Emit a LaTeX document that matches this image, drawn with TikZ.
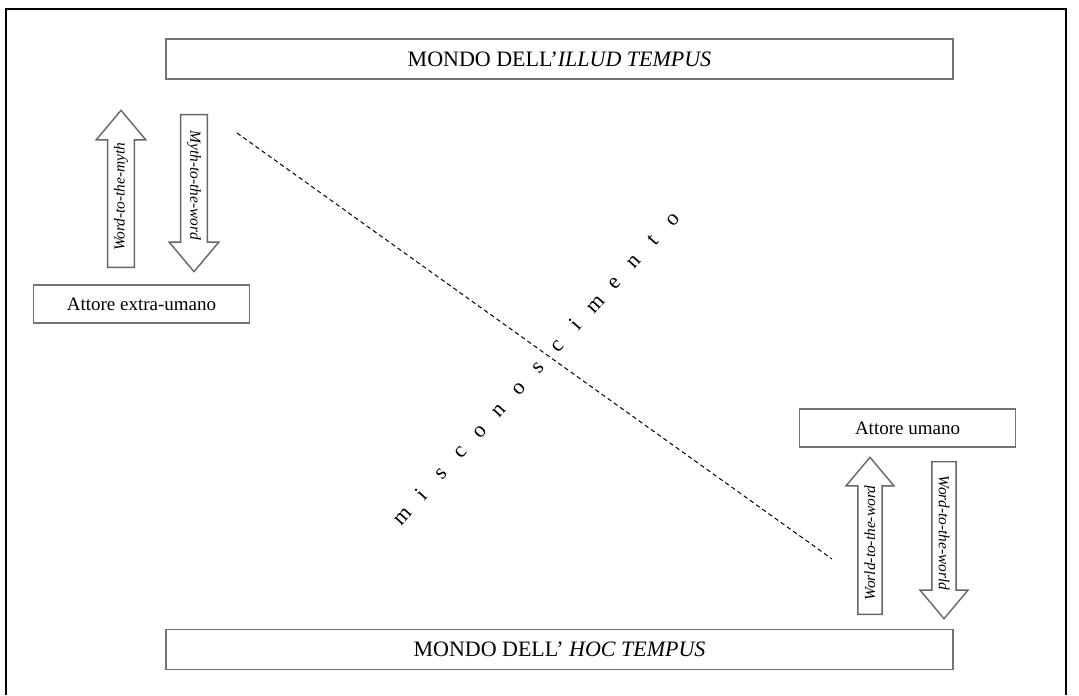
\documentclass[tikz,border=0pt]{standalone}
\usepackage{fontspec}
\setmainfont{Liberation Serif}
\usetikzlibrary{shapes.arrows,calc}

\begin{document}
\begin{tikzpicture}[
  x=0.5pt, y=-0.5pt,
  caja/.style={draw=black!55, line width=0.8pt, fill=white, inner sep=0pt, font=\fontsize{11}{13}\selectfont},
  mundo/.style={caja, minimum width=393.5pt, minimum height=20pt},
  actor/.style={caja, minimum width=108pt, minimum height=19pt, font=\fontsize{9.5}{11}\selectfont},
  flecha/.style={single arrow, draw=black!60, line width=0.7pt, fill=white, inner xsep=0pt, inner ysep=2.8pt,
    minimum height=78.5pt, minimum width=24pt, single arrow head extend=5.75pt, single arrow tip angle=80,
    font=\fontsize{7.7}{9}\selectfont\itshape},
  sube/.style={flecha, rotate=90, anchor=tail},
  baja/.style={flecha, rotate=-90, anchor=tail}
]
  \useasboundingbox (0,0) rectangle (1079,695);

  % Marco exterior (abierto por abajo)
  \draw[line width=1.2pt] (6,695) -- (6,9) -- (1066,9) -- (1066,695);

  % Mundos
  \node[mundo] (illud) at (559.5,59) {MONDO DELL'\textit{ILLUD TEMPUS}};
  \node[mundo] (hoc) at (559.5,649.5) {MONDO DELL' \textit{HOC TEMPUS}};

  % Actores
  \node[actor] (extra) at (141.5,304) {Attore extra-umano};
  \node[actor] (umano) at (907.5,428) {Attore umano};

  % Flechas de ajuste
  \node[sube] (wmyth) at (121,268) {Word-to-the-myth};
  \node[baja] (mword) at (194,114) {Myth-to-the-word};
  \node[sube] (wword) at (870,615) {World-to-the-word};
  \node[baja] (wworld) at (944,461) {Word-to-the-world};

  % Linea discontinua
  \coordinate (d1) at (237,133);
  \coordinate (d2) at (832,559);
  \draw[dash pattern=on 2.2pt off 1.6pt, line width=0.5pt] (d1) -- (d2);

  % Texto inclinado, letra por letra
  \coordinate (m0) at (407,520);
  \coordinate (m1) at (677,223);
  \foreach \ch [count=\i] in {m,i,s,c,o,n,o,s,c,i,m,e,n,t,o}
    \node[rotate=47.7, anchor=base, inner sep=0pt, font=\fontsize{11}{13}\selectfont] (l\i) at ($(m0)!{(\i-1)/14}!(m1)$) {\ch};

\end{tikzpicture}
\end{document}
